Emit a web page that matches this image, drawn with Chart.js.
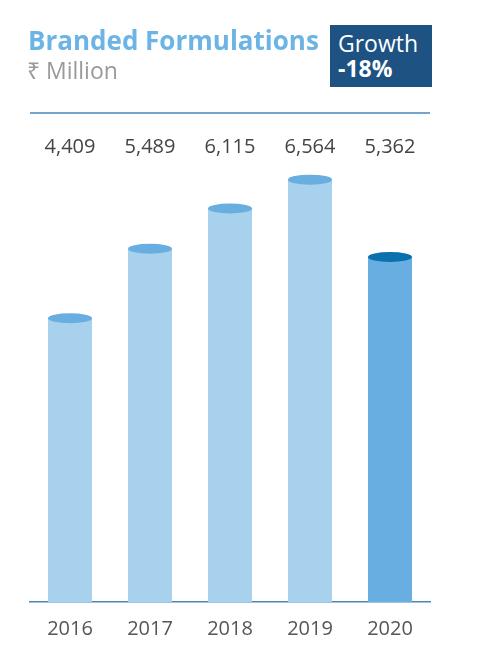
<!DOCTYPE html>
<html>
<head>
<meta charset="utf-8">
<script src="https://cdn.jsdelivr.net/npm/chart.js@4"></script>
<style>
  html, body { margin: 0; padding: 0; background: #fff; }
  body { width: 499px; height: 657px; position: relative; overflow: hidden; font-family: "Open Sans", sans-serif; }
  .title { position: absolute; left: 28px; top: 24px; font-size: 26px; font-weight: 700; color: #6cb4e5; line-height: 32px; }
  .unit { position: absolute; left: 27px; top: 57px; font-size: 23px; color: #9a9a9a; line-height: 26px; }
  .growth { position: absolute; left: 330px; top: 25px; width: 102px; height: 62px; background: #1d5283; color: #fff; box-sizing: border-box; padding: 6px 0 0 8px; }
  .growth .g1 { font-size: 23px; line-height: 25px; }
  .growth .g2 { font-size: 23px; font-weight: 700; line-height: 25px; }
  #wrap { position: absolute; left: 0; top: 0; width: 499px; height: 657px; }
</style>
</head>
<body>
<div id="wrap"><canvas id="chart"></canvas></div>
<div class="title">Branded Formulations</div>
<div class="unit">₹ Million</div>
<div class="growth"><div class="g1">Growth</div><div class="g2">-18%</div></div>
<script>
// 数据
const years = ['2016', '2017', '2018', '2019', '2020'];
const values = [4409, 5489, 6115, 6564, 5362];
const bodyColors = ['#a7d1ec', '#a7d1ec', '#a7d1ec', '#a7d1ec', '#69aee1'];
const capColors = ['#69aee0', '#69aee0', '#69aee0', '#69aee0', '#0a70ae'];

const lineColor = '#4a86b9';

// 圆柱顶 + 数值 + 上边线
const cylinderPlugin = {
  id: 'cylinder',
  afterDatasetsDraw(chart) {
    const ctx = chart.ctx;
    const area = chart.chartArea;
    const meta = chart.getDatasetMeta(0);

    // 上边线
    ctx.save();
    ctx.strokeStyle = lineColor;
    ctx.lineWidth = 1.5;
    ctx.beginPath();
    ctx.moveTo(area.left, area.top);
    ctx.lineTo(area.right, area.top);
    ctx.stroke();

    meta.data.forEach((bar, i) => {
      const w = bar.width;
      ctx.fillStyle = capColors[i];
      ctx.beginPath();
      ctx.ellipse(bar.x, bar.y, w / 2, 5, 0, 0, Math.PI * 2);
      ctx.fill();

      ctx.fillStyle = '#444';
      ctx.font = '20px "Open Sans"';
      ctx.textAlign = 'center';
      ctx.textBaseline = 'alphabetic';
      ctx.fillText(values[i].toLocaleString('en-US'), bar.x, area.top + 40);
    });
    ctx.restore();
  }
};

new Chart(document.getElementById('chart'), {
  type: 'bar',
  data: {
    labels: years,
    datasets: [{
      data: values,
      backgroundColor: bodyColors,
      borderWidth: 0,
      categoryPercentage: 1,
      barPercentage: 0.55
    }]
  },
  options: {
    responsive: true,
    maintainAspectRatio: false,
    animation: false,
    layout: { padding: { left: 30, right: 69, top: 113, bottom: 1 } },
    plugins: { legend: { display: false }, tooltip: { enabled: false } },
    scales: {
      x: {
        grid: { display: false, drawTicks: false },
        border: { display: true, color: lineColor, width: 1.5 },
        ticks: { color: '#555', font: { family: 'Open Sans', size: 20, lineHeight: 1 }, padding: 17 }
      },
      y: {
        display: false,
        min: 0,
        max: 7600
      }
    }
  },
  plugins: [cylinderPlugin]
});
</script>
</body>
</html>
